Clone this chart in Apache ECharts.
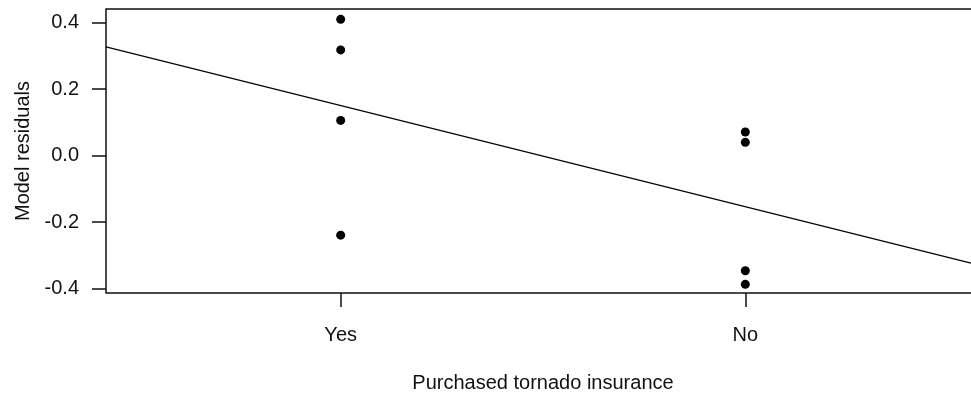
<!DOCTYPE html>
<html>
<head>
<meta charset="utf-8">
<script src="https://cdn.jsdelivr.net/npm/echarts@6/dist/echarts.min.js"></script>
<style>
  html, body { margin: 0; padding: 0; background: #fff; overflow: hidden; }
  #wrap { width: 971px; height: 398px; overflow: hidden; }
  /* the plot frame runs slightly past the right edge of the view */
  #chart { width: 990px; height: 398px; }
</style>
</head>
<body>
<div id="wrap"><div id="chart"></div></div>
<script>
// Groups on the x axis (plotted at positions 1 and 2)
const categories = ['Yes', 'No'];
// Residuals for each group
const residualsYes = [0.410, 0.318, 0.106, -0.239];
const residualsNo = [0.071, 0.040, -0.346, -0.387];
// Fitted straight line, given by its two end points (x position, residual)
const fitLine = [[0.42, 0.327], [2.58, -0.330]];
// Tick values on the y axis
const yTicks = [-0.4, -0.2, 0.0, 0.2, 0.4];

const groups = [residualsYes, residualsNo];
const points = [];
groups.forEach((vals, i) => vals.forEach(v => points.push([i + 1, v])));
const catPositions = categories.map((_, i) => i + 1);

const font = '"Liberation Sans", Arial, sans-serif';
const ink = '#111';

const chart = echarts.init(document.getElementById('chart'), null, { renderer: 'canvas' });
chart.setOption({
  animation: false,
  backgroundColor: '#fff',
  grid: {
    left: 106, top: 9, right: 10, bottom: 103,
    show: true, borderColor: ink, borderWidth: 1.5, backgroundColor: 'transparent'
  },
  xAxis: {
    type: 'value',
    min: 0.42, max: 2.58,
    name: 'Purchased tornado insurance',
    nameLocation: 'middle',
    nameGap: 80,
    nameTextStyle: { color: ink, fontSize: 20, fontFamily: font },
    axisLine: { show: false, onZero: false },
    splitLine: { show: false },
    axisTick: {
      show: true, inside: false, length: 14,
      customValues: catPositions,
      lineStyle: { color: ink, width: 1.5 }
    },
    axisLabel: {
      customValues: catPositions,
      margin: 32,
      color: ink, fontSize: 20, fontFamily: font,
      formatter: v => categories[Math.round(v) - 1] || ''
    }
  },
  yAxis: {
    type: 'value',
    min: -0.413, max: 0.441,
    name: 'Model residuals',
    nameLocation: 'middle',
    nameGap: 72,
    nameRotate: 90,
    nameTextStyle: { color: ink, fontSize: 20, fontFamily: font },
    axisLine: { show: false, onZero: false },
    splitLine: { show: false },
    axisTick: {
      show: true, inside: false, length: 14,
      customValues: yTicks,
      lineStyle: { color: ink, width: 1.5 }
    },
    axisLabel: {
      customValues: yTicks,
      margin: 27,
      color: ink, fontSize: 20, fontFamily: font,
      formatter: v => v.toFixed(1)
    }
  },
  series: [
    {
      type: 'line',
      data: fitLine,
      showSymbol: false,
      symbol: 'none',
      clip: true,
      lineStyle: { color: '#000', width: 1.2 },
      silent: true,
      z: 2
    },
    {
      type: 'scatter',
      data: points,
      symbol: 'circle',
      symbolSize: 9,
      itemStyle: { color: '#000', opacity: 1 },
      z: 3
    }
  ]
});
</script>
</body>
</html>
